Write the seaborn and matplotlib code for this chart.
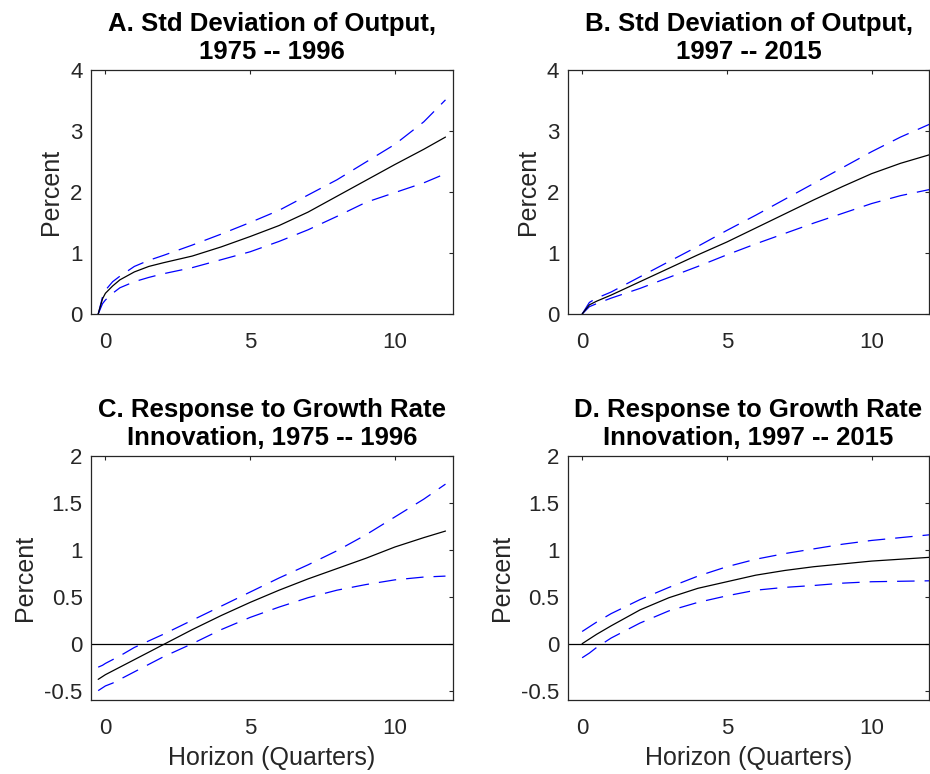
import pandas as pd
import matplotlib
matplotlib.use('Agg')
import matplotlib.pyplot as plt
import seaborn as sns

# Horizons (quarters)
x_early = [-0.25, -0.1, 0, 0.25, 0.5, 1, 1.5, 2, 3, 4, 5, 6, 7, 8, 9, 10, 11, 11.75]
x_late = [0, 0.25, 0.5, 1, 2, 3, 4, 5, 6, 7, 8, 9, 10, 11, 12]

# A. Std deviation of output, 1975 -- 1996
sd_early = [0.0, 0.25, 0.34, 0.46, 0.56, 0.69, 0.78, 0.84, 0.95, 1.10, 1.27, 1.45, 1.67, 1.93, 2.19, 2.45, 2.70, 2.90]
sd_early_hi = [0.0, 0.28, 0.39, 0.53, 0.62, 0.78, 0.88, 0.96, 1.13, 1.31, 1.50, 1.70, 1.95, 2.20, 2.49, 2.78, 3.15, 3.51]
sd_early_lo = [0.0, 0.17, 0.23, 0.34, 0.43, 0.53, 0.60, 0.66, 0.76, 0.89, 1.02, 1.19, 1.38, 1.60, 1.83, 1.99, 2.15, 2.30]

# B. Std deviation of output, 1997 -- 2015
sd_late = [0.0, 0.15, 0.21, 0.31, 0.53, 0.75, 0.97, 1.18, 1.41, 1.64, 1.87, 2.09, 2.30, 2.47, 2.61]
sd_late_hi = [0.0, 0.19, 0.26, 0.36, 0.61, 0.86, 1.11, 1.37, 1.62, 1.88, 2.14, 2.40, 2.66, 2.90, 3.11]
sd_late_lo = [0.0, 0.12, 0.17, 0.26, 0.42, 0.60, 0.78, 0.97, 1.15, 1.32, 1.49, 1.65, 1.81, 1.94, 2.04]

# C. Response to growth rate innovation, 1975 -- 1996
irf_early = [-0.38, -0.35, -0.33, -0.29, -0.25, -0.17, -0.09, -0.01, 0.15, 0.30, 0.44, 0.57, 0.69, 0.80, 0.91, 1.03, 1.13, 1.20]
irf_early_hi = [-0.25, -0.23, -0.21, -0.17, -0.13, -0.04, 0.03, 0.10, 0.25, 0.40, 0.55, 0.70, 0.84, 0.99, 1.16, 1.35, 1.54, 1.70]
irf_early_lo = [-0.50, -0.47, -0.45, -0.42, -0.38, -0.30, -0.22, -0.14, 0.0, 0.15, 0.28, 0.39, 0.49, 0.57, 0.63, 0.68, 0.71, 0.72]

# D. Response to growth rate innovation, 1997 -- 2015
irf_late = [0.0, 0.05, 0.10, 0.19, 0.36, 0.49, 0.59, 0.66, 0.73, 0.78, 0.82, 0.85, 0.88, 0.90, 0.92]
irf_late_hi = [0.13, 0.18, 0.23, 0.32, 0.47, 0.60, 0.72, 0.82, 0.90, 0.96, 1.01, 1.06, 1.10, 1.13, 1.16]
irf_late_lo = [-0.15, -0.10, -0.04, 0.06, 0.22, 0.35, 0.44, 0.51, 0.57, 0.60, 0.62, 0.645, 0.66, 0.665, 0.67]

titles = ['A. Std Deviation of Output,\n1975 -- 1996',
          'B. Std Deviation of Output,\n1997 -- 2015',
          'C. Response to Growth Rate\nInnovation, 1975 -- 1996',
          'D. Response to Growth Rate\nInnovation, 1997 -- 2015']

sns.set_style('white')
plt.rcParams['font.family'] = ['Liberation Sans', 'DejaVu Sans']

gray = '#262626'
fig = plt.figure(figsize=(9.3, 7.74), dpi=100)
w, h = 0.389, 0.3153
axA = fig.add_axes([0.0978, 0.5943, w, h])
axB = fig.add_axes([0.6104, 0.5943, w, h])
axC = fig.add_axes([0.0978, 0.0956, w, h])
axD = fig.add_axes([0.6104, 0.0956, w, h])

panels = [
    (axA, x_early, sd_early, sd_early_hi, sd_early_lo),
    (axB, x_late, sd_late, sd_late_hi, sd_late_lo),
    (axC, x_early, irf_early, irf_early_hi, irf_early_lo),
    (axD, x_late, irf_late, irf_late_hi, irf_late_lo),
]

for i, (ax, x, mid, hi, lo) in enumerate(panels):
    if i >= 2:
        ax.axhline(0, color='black', lw=0.9, zorder=1)
    sns.lineplot(x=x, y=mid, ax=ax, color='black', lw=0.9, zorder=3)
    for band in (hi, lo):
        sns.lineplot(x=x, y=band, ax=ax, color='#0000ff', lw=0.9,
                     linestyle=(0, (14, 8)), zorder=2)

    ax.set_xlim(-0.5, 12)
    ax.set_xticks([0, 5, 10])
    if i < 2:
        ax.set_ylim(0, 4)
        ax.set_yticks([0, 1, 2, 3, 4])
        ax.set_yticklabels(['0', '1', '2', '3', '4'])
    else:
        ax.set_ylim(-0.6, 2)
        ax.set_yticks([-0.5, 0, 0.5, 1, 1.5, 2])
        ax.set_yticklabels(['-0.5', '0', '0.5', '1', '1.5', '2'])
        ax.set_xlabel('Horizon (Quarters)', fontsize=18, color=gray, labelpad=5)

    ax.set_ylabel('Percent', fontsize=18, color=gray, labelpad=5)
    ax.set_title(titles[i], fontsize=18.5, fontweight='bold', color='black', pad=8, linespacing=1.2)
    ax.tick_params(direction='in', length=3, width=0.8, colors=gray,
                   labelsize=16, top=True, right=True, pad=6)
    ax.tick_params(axis='x', pad=13)
    for s in ax.spines.values():
        s.set_color(gray)
        s.set_linewidth(0.9)
        s.set_visible(True)

fig.savefig('out.png', dpi=100)
